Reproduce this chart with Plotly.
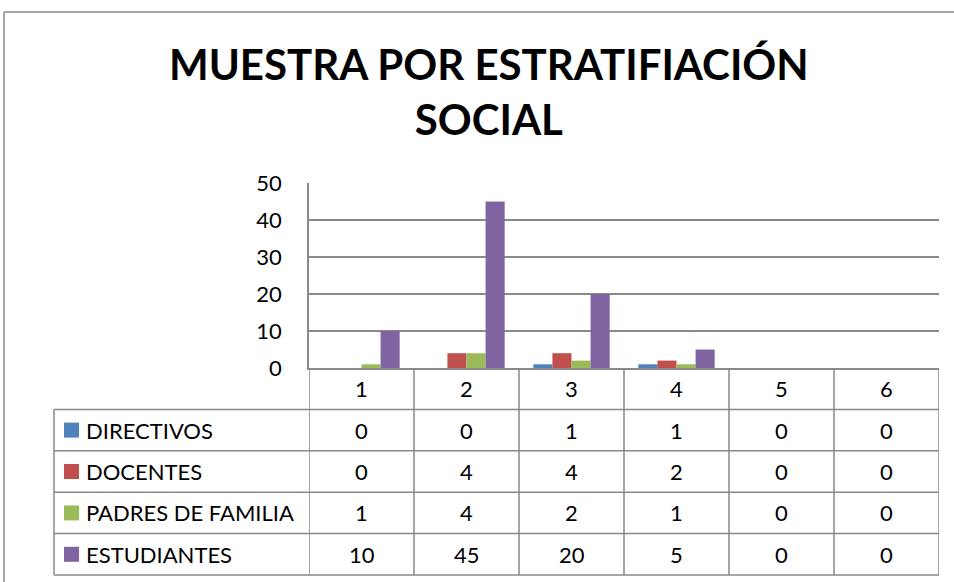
import plotly.graph_objects as go

# Data
categories = ["1", "2", "3", "4", "5", "6"]
series_names = ["DIRECTIVOS", "DOCENTES", "PADRES DE FAMILIA", "ESTUDIANTES"]
directivos = [0, 0, 1, 1, 0, 0]
docentes = [0, 4, 4, 2, 0, 0]
padres = [1, 4, 2, 1, 0, 0]
estudiantes = [10, 45, 20, 5, 0, 0]
colors = ["#4F81BD", "#C0504D", "#9BBB59", "#8064A2"]
y_ticks = [0, 10, 20, 30, 40, 50]
title_text = "MUESTRA POR ESTRATIFIACIÓN<br>SOCIAL"

series_values = [directivos, docentes, padres, estudiantes]

W, H = 954, 582
L, R, T, B = 309, 15, 183, 214
plot_w = W - L - R
plot_h = H - T - B


def px(x):
    return (x - L) / plot_w


def py(y):
    return (H - B - y) / plot_h


grid_col = "#898989"
font_main = "Lato, Open Sans, sans-serif"
fsize = 22

fig = go.Figure()
for name, vals, col in zip(series_names, series_values, colors):
    fig.add_trace(go.Bar(x=categories, y=vals, name=name, marker=dict(color=col, line=dict(width=0))))

# data table layout (pixel rows below the plot)
row_top = H - B
row_h = 41.4
table_left = 54
n_rows = 1 + len(series_names)

shapes = []
annotations = []
# horizontal lines of the table
for i in range(1, n_rows + 1):
    y = row_top + i * row_h
    shapes.append(dict(type="line", xref="paper", yref="paper", x0=px(table_left), x1=1,
                       y0=py(y), y1=py(y), line=dict(color=grid_col, width=1.5)))
# vertical lines between categories
for k in range(len(categories) + 1):
    shapes.append(dict(type="line", xref="x", yref="paper", x0=k - 0.5, x1=k - 0.5,
                       y0=0, y1=py(row_top + n_rows * row_h), line=dict(color=grid_col, width=1.5)))
# left edge of the legend column
shapes.append(dict(type="line", xref="paper", yref="paper", x0=px(table_left), x1=px(table_left),
                   y0=py(row_top + row_h), y1=py(row_top + n_rows * row_h), line=dict(color=grid_col, width=1.5)))

# header row (category labels)
for k, c in enumerate(categories):
    annotations.append(dict(x=k, y=py(row_top + row_h / 2), xref="x", yref="paper", text=c,
                            xanchor="center", yanchor="middle", showarrow=False,
                            font=dict(size=fsize, color="black", family=font_main)))

# series rows
for i, (name, vals, col) in enumerate(zip(series_names, series_values, colors)):
    yc = row_top + (i + 1.5) * row_h
    shapes.append(dict(type="rect", xref="paper", yref="paper", x0=px(64), x1=px(79),
                       y0=py(yc - 7.5), y1=py(yc + 7.5), fillcolor=col, line=dict(width=0)))
    annotations.append(dict(x=px(84), y=py(yc), xref="paper", yref="paper", text=name,
                            xanchor="left", yanchor="middle", showarrow=False,
                            font=dict(size=fsize, color="black", family=font_main)))
    for k, v in enumerate(vals):
        annotations.append(dict(x=k, y=py(yc), xref="x", yref="paper", text=str(v),
                                xanchor="center", yanchor="middle", showarrow=False,
                                font=dict(size=fsize, color="black", family=font_main)))

# chart border
shapes.append(dict(type="line", xref="paper", yref="paper", x0=px(4), x1=px(4), y0=py(12), y1=py(H + 5),
                   line=dict(color="#878787", width=1.5)))
shapes.append(dict(type="line", xref="paper", yref="paper", x0=px(4), x1=px(W + 5), y0=py(12), y1=py(12),
                   line=dict(color="#878787", width=1.5)))

# title
annotations.append(dict(x=px(489), y=py(92), xref="paper", yref="paper", text=title_text, showarrow=False,
                        xanchor="center", yanchor="middle",
                        font=dict(size=42, color="black", family="Lato, sans-serif", weight="bold")))

fig.update_layout(
    width=W, height=H,
    margin=dict(l=L, r=R, t=T, b=B, pad=0),
    paper_bgcolor="white", plot_bgcolor="white",
    barmode="group", bargap=0.273, bargroupgap=0,
    showlegend=False,
    shapes=shapes, annotations=annotations,
    xaxis=dict(type="category", range=[-0.5, 5.5], showticklabels=False, showgrid=False,
               showline=True, linecolor=grid_col, linewidth=1.5, zeroline=False, fixedrange=True),
    yaxis=dict(range=[0, 50], tickvals=y_ticks, showgrid=True, gridcolor=grid_col, gridwidth=1.5,
               showline=True, linecolor=grid_col, linewidth=1.5, zeroline=False, ticks="",
               ticklabelstandoff=21, tickfont=dict(size=fsize, color="black", family=font_main)),
)

# the page body has a default 8px margin; remove it so the figure fills the window
fig.write_html("out.html", config={"displayModeBar": False},
               post_script="document.body.style.margin='0px';")
